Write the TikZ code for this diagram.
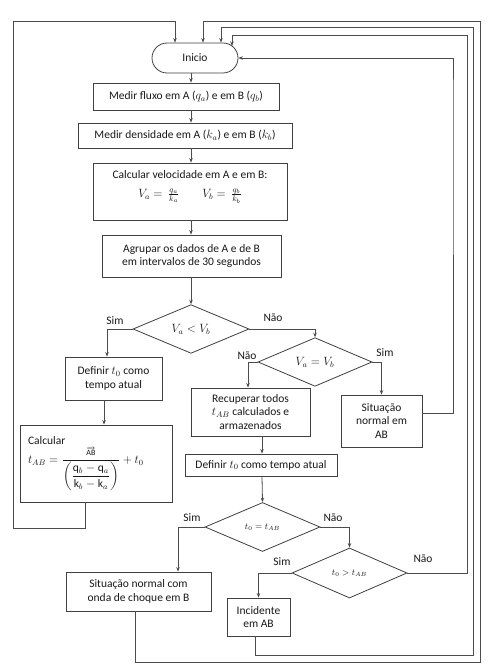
\documentclass[tikz,border=0pt]{standalone}
\usepackage{amsmath}
\usepackage{fontspec}
\setmainfont{Carlito}
\usetikzlibrary{shapes.geometric,arrows.meta,calc}
\begin{document}
\begin{tikzpicture}[x=1pt,y=-1pt,
  font=\fontsize{11.5}{13.5}\selectfont,
  line width=0.8pt,
  box/.style={draw=black!75, rectangle, inner sep=1pt, align=center, text=black!90},
  dec/.style={draw=black!75, diamond, inner sep=0pt, text=black!90},
  arr/.style={draw=black!70, -{Stealth[length=4.5pt,width=3.5pt]}},
  lbl/.style={inner sep=1pt, text=black!90}]
\useasboundingbox[fill=white] (0,0) rectangle (487,671);

% column coordinates
\coordinate (cx) at (191,0);
\coordinate (c107) at (107,0);
\coordinate (c104) at (104,0);
\coordinate (c248) at (248,0);
\coordinate (c262) at (262,0);
\coordinate (c178) at (178,0);
\coordinate (c85) at (85,0);
\coordinate (c135) at (135,0);
\coordinate (c255) at (255,0);
\coordinate (c175) at (175,0);
\coordinate (c203) at (203,0);
\coordinate (c221) at (221,0);
\coordinate (c453) at (453,100);
\coordinate (inarc) at (232,46);

\node[box, rounded corners=15pt, minimum width=86pt, minimum height=30pt] (inicio) at (195,58) {Inicio};
\node[box, minimum width=186pt, minimum height=27pt] (fluxo) at (186,96.5) {Medir fluxo em A ($q_a$) e em B ($q_b$)};
\node[box, minimum width=214pt, minimum height=25pt] (dens) at (185,135.5) {Medir densidade em A ($k_a$) e em B ($k_b$)};
\node[box, minimum width=194pt, minimum height=57pt] (vel) at (190,191.5) {Calcular velocidade em A e em B:\\[5pt] $V_a=\,\frac{q_a}{k_a}\qquad V_b=\,\frac{q_b}{k_b}$\\[0pt]\rule{0pt}{8pt}};
\node[box, minimum width=179pt, minimum height=42pt] (agr) at (191.5,256) {Agrupar os dados de A e de B\\em intervalos de 30 segundos};
\node[dec, minimum width=116pt, minimum height=48pt] (d1) at (191,329) {$V_a < V_b$};
\node[dec, minimum width=114pt, minimum height=48pt] (d2) at (315,362) {$V_a = V_b$};
\node[box, minimum width=97pt, minimum height=43pt] (def1) at (113.5,378.5) {Definir $t_0$ como\\tempo atual};
\node[box, minimum width=119pt, minimum height=48pt] (rec) at (250.5,412) {Recuperar todos\\$t_{AB}$ calculados e\\armazenados};
\node[box, minimum width=81pt, minimum height=52pt] (sitAB) at (381.5,421) {Situação\\normal em\\AB};
\node[box, minimum width=152pt, minimum height=77pt, align=left, text width=136pt, inner xsep=8pt] (calc) at (96,463.5) {Calcular\\[2pt]
  $\displaystyle t_{AB}=\frac{\scriptstyle\overrightarrow{\mathrm{AB}}}{\left(\dfrac{\mathrm{q}_b-\mathrm{q}_a}{\mathrm{k}_b-\mathrm{k}_a}\right)}+t_0$};
\node[box, minimum width=152pt, minimum height=22pt] (def2) at (261,465) {Definir $t_0$ como tempo atual};
\node[dec, minimum width=115pt, minimum height=49pt, font=\small] (d3) at (262.5,527) {$t_0 = t_{AB}$};
\node[dec, minimum width=115pt, minimum height=50pt, font=\small] (d4) at (349.5,573) {$t_0 > t_{AB}$};
\node[box, minimum width=145pt, minimum height=39pt] (sitB) at (138.5,591.5) {Situação normal com\\onda de choque em B};
\node[box, minimum width=63pt, minimum height=38pt] (inc) at (258.5,617) {Incidente\\em AB};

% labels
\node[lbl] (s1) at (115,321) {Sim};
\node[lbl] (n1) at (273,318) {Não};
\node[lbl] (n2) at (247,356) {Não};
\node[lbl] (s2) at (385,353) {Sim};
\node[lbl] (s3) at (192,518) {Sim};
\node[lbl] (n3) at (333,518) {Não};
\node[lbl] (s4) at (282,562) {Sim};
\node[lbl] (n4) at (423,559) {Não};

% main column
\draw[arr] (inicio.south -| cx) -- (fluxo.north -| cx);
\draw[arr] (fluxo.south -| cx) -- (dens.north -| cx);
\draw[arr] (dens.south -| cx) -- (vel.north -| cx);
\draw[arr] (vel.south -| cx) -- (agr.north -| cx);
\draw[arr] (agr.south -| cx) -- (d1.north);
% branches
\draw[arr] (d1.west) -| (def1.north -| c107);
\draw[arr] (d1.east) -| (d2.north);
\draw[arr] (d2.west) -| (rec.north -| c248);
\draw[arr] (d2.east) -| (sitAB.north);
\draw[arr] (def1.south -| c104) -- (calc.north -| c104);
\draw[arr] (rec.south -| c262) -- (def2.north -| c262);
\draw[arr] (def2.south -| c262) -- (d3.north);
\draw[arr] (d3.west) -| (sitB.north -| c178);
\draw[arr] (d3.east) -| (d4.north);
\draw[arr] (d4.west) -| (inc.north);
% loops back to Inicio
\draw[arr] (calc.south -| c85) -- ++(0,26) -| (13,21) -| (inicio.north -| c175);
\draw[arr] (sitB.south -| c135) |- (480,662) |- (203,21) -- (inicio.north -| c203);
\draw[arr] (inc.south -| c255) |- (473,655) |- (221,27) -- (inicio.north -| c221);
\draw[arr] (d4.east) -| (467,35) -| (inarc);
\draw[arr] ([yshift=8pt]sitAB.east) -| (c453) |- (inicio.east);
\end{tikzpicture}
\end{document}
